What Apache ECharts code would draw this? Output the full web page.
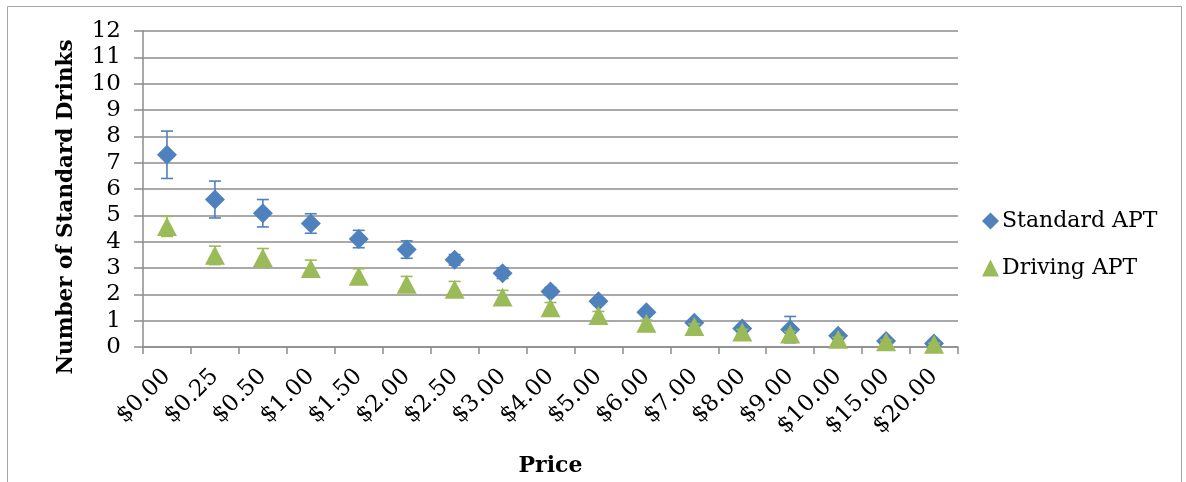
<!DOCTYPE html>
<html>
<head>
<meta charset="utf-8">
<script src="https://cdn.jsdelivr.net/npm/echarts@6/dist/echarts.min.js"></script>
<style>
html,body{margin:0;padding:0;background:#fff;}
#chart{width:1186px;height:482px;}
</style>
</head>
<body>
<div id="chart"></div>
<script>
const categories = ['$0.00','$0.25','$0.50','$1.00','$1.50','$2.00','$2.50','$3.00','$4.00','$5.00','$6.00','$7.00','$8.00','$9.00','$10.00','$15.00','$20.00'];
const standardAPT = [7.3, 5.6, 5.08, 4.69, 4.1, 3.7, 3.31, 2.8, 2.11, 1.74, 1.32, 0.92, 0.7, 0.66, 0.43, 0.23, 0.13];
const standardErr = [0.9, 0.7, 0.52, 0.37, 0.33, 0.33, 0.2, 0.2, 0.15, 0.12, 0.1, 0.1, 0.1, 0.5, 0.1, 0.08, 0.05];
const drivingAPT = [4.58, 3.48, 3.39, 2.98, 2.69, 2.38, 2.19, 1.9, 1.49, 1.2, 0.9, 0.78, 0.57, 0.49, 0.29, 0.2, 0.1];
const drivingErr = [0.38, 0.35, 0.35, 0.32, 0.28, 0.3, 0.3, 0.25, 0.2, 0.15, 0.12, 0.1, 0.1, 0.1, 0.08, 0.06, 0.05];
const yTicks = [0,1,2,3,4,5,6,7,8,9,10,11,12];

const BLUE = '#4F81BD';
const GREEN = '#9BBB59';
const GRAY = '#8C8C8C';
const FONT = '"DejaVu Serif", serif';

function errData(vals, errs) {
  return vals.map((v, i) => [i, v - errs[i], v + errs[i]]);
}
function errRender(color) {
  return function (params, api) {
    const x = api.value(0);
    const lo = api.coord([x, api.value(1)]);
    const hi = api.coord([x, api.value(2)]);
    const hw = 6;
    const style = { stroke: color, lineWidth: 1.6, fill: null };
    return {
      type: 'group',
      children: [
        { type: 'line', shape: { x1: lo[0], y1: lo[1], x2: hi[0], y2: hi[1] }, style },
        { type: 'line', shape: { x1: lo[0] - hw, y1: lo[1], x2: lo[0] + hw, y2: lo[1] }, style },
        { type: 'line', shape: { x1: hi[0] - hw, y1: hi[1], x2: hi[0] + hw, y2: hi[1] }, style }
      ]
    };
  };
}

const chart = echarts.init(document.getElementById('chart'));
chart.setOption({
  animation: false,
  backgroundColor: '#fff',
  graphic: [{
    type: 'rect',
    shape: { x: 7.5, y: 6.5, width: 1174, height: 500 },
    style: { fill: null, stroke: '#A6A6A6', lineWidth: 1 },
    silent: true
  }, {
    type: 'text',
    x: 66, y: 207,
    rotation: Math.PI / 2,
    style: {
      text: 'Number of Standard Drinks',
      fontFamily: FONT, fontSize: 21.5, fontWeight: 'bold', fill: '#000',
      align: 'center', verticalAlign: 'middle'
    },
    silent: true
  }],
  grid: { left: 143, right: 228, top: 31, bottom: 133, containLabel: false },
  legend: {
    orient: 'vertical',
    left: 977,
    top: 205,
    itemGap: 25,
    itemWidth: 17,
    itemHeight: 17,
    textStyle: { fontFamily: FONT, fontSize: 22, color: '#000', padding: [0, 0, 0, -2] },
    data: ['Standard APT', 'Driving APT']
  },
  xAxis: {
    type: 'category',
    data: categories,
    boundaryGap: true,
    name: 'Price',
    nameLocation: 'middle',
    nameGap: 108,
    nameTextStyle: { fontFamily: FONT, fontSize: 22, fontWeight: 'bold', color: '#000' },
    axisLine: { lineStyle: { color: GRAY, width: 1.5 } },
    axisTick: { show: true, alignWithLabel: false, length: 7, lineStyle: { color: GRAY, width: 1.5 } },
    axisLabel: { rotate: 45, interval: 0, margin: 26, fontFamily: FONT, fontSize: 23, color: '#000' },
    splitLine: { show: false }
  },
  yAxis: {
    type: 'value',
    min: 0,
    max: 12,
    interval: 1,
    axisLine: { show: true, lineStyle: { color: GRAY, width: 1.5 } },
    axisTick: { show: true, length: 9, lineStyle: { color: GRAY, width: 1.5 } },
    axisLabel: {
      margin: 22, fontFamily: FONT, fontSize: 23, color: '#000',
      formatter: v => yTicks.includes(v) ? String(v) : ''
    },
    splitLine: { show: true, lineStyle: { color: GRAY, width: 1.5 } }
  },
  series: [
    {
      name: 'Standard APT err',
      type: 'custom',
      renderItem: errRender(BLUE),
      data: errData(standardAPT, standardErr),
      encode: { x: 0, y: [1, 2] },
      z: 2,
      silent: true
    },
    {
      name: 'Standard APT',
      type: 'scatter',
      symbol: 'diamond',
      symbolSize: 20,
      itemStyle: { color: BLUE, opacity: 1 },
      data: standardAPT,
      z: 3
    },
    {
      name: 'Driving APT err',
      type: 'custom',
      renderItem: errRender(GREEN),
      data: errData(drivingAPT, drivingErr),
      encode: { x: 0, y: [1, 2] },
      z: 4,
      silent: true
    },
    {
      name: 'Driving APT',
      type: 'scatter',
      symbol: 'triangle',
      symbolSize: [20, 19],
      itemStyle: { color: GREEN, opacity: 1 },
      data: drivingAPT,
      z: 5
    }
  ]
});
</script>
</body>
</html>
